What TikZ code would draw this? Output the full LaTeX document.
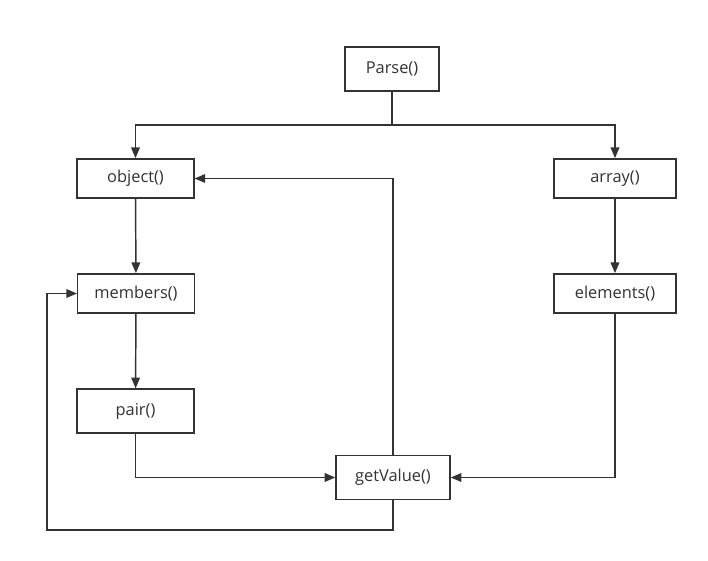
\documentclass[tikz,border=0pt]{standalone}
\usepackage{fontspec}
\setmainfont{Open Sans}
\usepackage{xcolor}
\definecolor{ink}{HTML}{333333}
\usetikzlibrary{arrows.meta}

\begin{document}
\begin{tikzpicture}[x=0.75pt,y=-0.75pt,
  box/.style={rectangle,draw=ink,line width=1.1pt,fill=white,
              minimum width=87.5pt,minimum height=29.5pt,
              text centered,font=\fontsize{12.3}{14}\selectfont,text=ink},
  tall/.style={minimum height=33pt},
  arr/.style={-{Triangle[length=8pt,width=6.5pt]},color=ink,line width=1.1pt},
  line/.style={color=ink,line width=1.1pt}]
  \useasboundingbox (0,0) rectangle (708,561);
  % call tree
  \node[box,tall,minimum width=70.5pt] (parse)    at (392,69)    {Parse()};
  \node[box]                           (object)   at (135.5,178.5) {object()};
  \node[box,minimum width=91.5pt]      (array)    at (615,178.5) {array()};
  \node[box]                           (members)  at (136,293.5) {members()};
  \node[box,minimum width=91.5pt]      (elements) at (615,293.5) {elements()};
  \node[box,tall]                      (pair)     at (135.5,411) {pair()};
  \node[box,tall,minimum width=85.5pt] (getvalue) at (393,477.5) {getValue()};
  \coordinate (split) at (392,125);
  \coordinate (back)  at (47,530);
  \draw[line](parse)--(split);
  \draw[arr](split)-|(object);\draw[arr](split)-|(array);
  \draw[arr](object)--(members);\draw[arr](array)--(elements);
  \draw[arr](members)--(pair);
  \draw[arr](pair.south)|-(getvalue.west);
  \draw[arr](elements.south)|-(getvalue.east);
  \draw[arr](getvalue.north)|-(object.east);
  \draw[arr](getvalue.south)|-(back)|-(members.west);
\end{tikzpicture}
\end{document}
